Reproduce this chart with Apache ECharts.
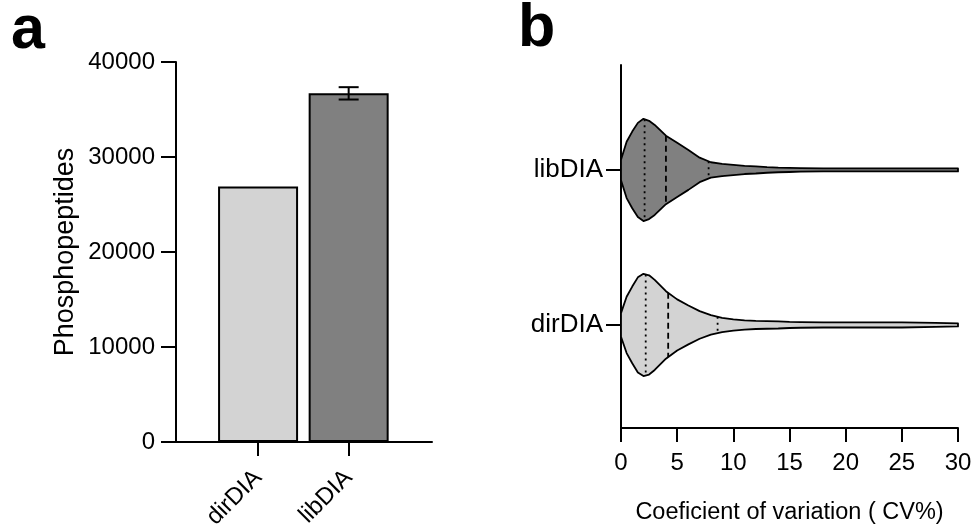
<!DOCTYPE html>
<html><head><meta charset="utf-8">
<script src="https://cdn.jsdelivr.net/npm/echarts@6/dist/echarts.min.js"></script>
<style>html,body{margin:0;padding:0;background:#fff}#c{width:972px;height:527px}</style>
</head><body><div id="c"></div>
<script>
// ---------- Panel a data ----------
const barCategories = ['dirDIA', 'libDIA'];
const barValues = [26900, 36700];
const barErrors = [0, 650];
const yTicksA = [0, 10000, 20000, 30000, 40000];

// ---------- Panel b data ----------
const violinCategories = ['dirDIA', 'libDIA'];
const cvGrid = [0, 0.5, 1, 1.5, 2, 2.5, 3, 4, 5, 6, 7, 8, 9, 10, 11, 12, 13, 14, 15, 16, 18, 20, 22, 25, 28, 30];
const densityDir = [0.23, 0.55, 0.75, 0.93, 1.0, 0.97, 0.88, 0.66, 0.50, 0.38, 0.27, 0.19, 0.14, 0.11, 0.09, 0.08, 0.075, 0.07, 0.06, 0.055, 0.05, 0.05, 0.05, 0.05, 0.04, 0.03];
const densityLib = [0.20, 0.55, 0.75, 0.92, 1.0, 0.96, 0.88, 0.67, 0.53, 0.39, 0.24, 0.15, 0.12, 0.10, 0.08, 0.07, 0.055, 0.045, 0.04, 0.035, 0.03, 0.03, 0.03, 0.03, 0.03, 0.03];
const quartilesDir = [2.2, 4.2, 8.6];
const quartilesLib = [2.1, 4.0, 7.8];
const xTicksB = [0, 5, 10, 15, 20, 25, 30];

const violinDensity = [densityDir, densityLib];
const violinQuartiles = [quartilesDir, quartilesLib];

const FONT = '"Liberation Sans", Arial, Helvetica, sans-serif';
const fills = ['#d3d3d3', '#808080'];
const HALF = 0.33; // max half-width of a violin, in category units

function interp(xs, ys, x) {
  for (let k = 0; k < xs.length - 1; k++) {
    if (x >= xs[k] && x <= xs[k + 1]) {
      const t = (x - xs[k]) / (xs[k + 1] - xs[k]);
      return ys[k] + t * (ys[k + 1] - ys[k]);
    }
  }
  return ys[ys.length - 1];
}

const axisLineStyle = { color: '#000', width: 2 };
const chart = echarts.init(document.getElementById('c'));

const option = {
  animation: false,
  textStyle: { fontFamily: FONT, color: '#000' },
  graphic: [
    { type: 'text', left: 11, top: 1, style: { text: 'a', font: 'bold 61px ' + FONT, fill: '#000' } },
    { type: 'text', left: 518, top: -1, style: { text: 'b', font: 'bold 61px ' + FONT, fill: '#000' } }
  ],
  grid: [
    { left: 176, top: 62, width: 256, height: 380, outerBoundsMode: 'none', containLabel: false },
    { left: 621, top: 65, width: 337, height: 363, outerBoundsMode: 'none', containLabel: false }
  ],
  xAxis: [
    {
      gridIndex: 0, type: 'value', min: 0.094, max: 2.92,
      splitLine: { show: false },
      axisLine: { show: true, onZero: false, lineStyle: axisLineStyle },
      axisTick: { show: true, customValues: [1, 2], length: 14, lineStyle: axisLineStyle },
      axisLabel: {
        customValues: [1, 2], formatter: v => barCategories[Math.round(v) - 1] || '',
        rotate: 45, fontSize: 24, color: '#000', margin: 32, fontFamily: FONT
      }
    },
    {
      gridIndex: 1, type: 'value', min: xTicksB[0], max: xTicksB[xTicksB.length - 1], interval: 5,
      splitLine: { show: false },
      axisLine: { show: true, onZero: false, lineStyle: axisLineStyle },
      axisTick: { show: true, length: 14, lineStyle: axisLineStyle },
      axisLabel: { fontSize: 24, color: '#000', margin: 23, fontFamily: FONT, formatter: v => String(v) },
      name: 'Coeficient of variation ( CV%)', nameLocation: 'middle', nameGap: 73,
      nameTextStyle: { fontSize: 23.5, color: '#000', fontFamily: FONT }
    }
  ],
  yAxis: [
    {
      gridIndex: 0, type: 'value', min: yTicksA[0], max: yTicksA[yTicksA.length - 1], interval: 10000,
      splitLine: { show: false },
      axisLine: { show: true, onZero: false, lineStyle: axisLineStyle },
      axisTick: { show: true, length: 15, lineStyle: axisLineStyle },
      axisLabel: { fontSize: 24, color: '#000', margin: 21, fontFamily: FONT, formatter: v => String(v) },
      name: 'Phosphopeptides', nameLocation: 'middle', nameGap: 97,
      nameTextStyle: { fontSize: 27, color: '#000', fontFamily: FONT }
    },
    {
      gridIndex: 1, type: 'value', min: 0.335, max: 2.677,
      splitLine: { show: false },
      axisLine: { show: true, onZero: false, lineStyle: axisLineStyle },
      axisTick: { show: true, customValues: [1, 2], length: 15, lineStyle: axisLineStyle },
      axisLabel: {
        customValues: [1, 2], formatter: v => violinCategories[Math.round(v) - 1] || '',
        fontSize: 26, color: '#000', margin: 18, fontFamily: FONT
      }
    }
  ],
  series: [
    {
      type: 'bar', xAxisIndex: 0, yAxisIndex: 0, barWidth: 80,
      data: barValues.map((v, i) => ({
        value: [i + 1, v],
        itemStyle: { color: fills[i], borderColor: '#000', borderWidth: 2 }
      })),
      z: 2
    },
    {
      type: 'custom', xAxisIndex: 0, yAxisIndex: 0, z: 5,
      data: barValues.map((v, i) => [i + 1, v, barErrors[i]]).filter(d => d[2] > 0),
      renderItem: (params, api) => {
        const x = api.value(0), m = api.value(1), e = api.value(2);
        const top = api.coord([x, m + e]);
        const bot = api.coord([x, m - e]);
        const cap = 10;
        const st = { stroke: '#000', lineWidth: 2 };
        return {
          type: 'group', children: [
            { type: 'line', shape: { x1: top[0], y1: top[1], x2: bot[0], y2: bot[1] }, style: st },
            { type: 'line', shape: { x1: top[0] - cap, y1: top[1], x2: top[0] + cap, y2: top[1] }, style: st },
            { type: 'line', shape: { x1: bot[0] - cap, y1: bot[1], x2: bot[0] + cap, y2: bot[1] }, style: st }
          ]
        };
      }
    },
    {
      type: 'custom', xAxisIndex: 1, yAxisIndex: 1, z: 3,
      data: violinCategories.map((c, i) => [i]),
      renderItem: (params, api) => {
        const i = api.value(0);
        const dens = violinDensity[i];
        const q = violinQuartiles[i];
        const yc = i + 1;
        const up = [], lo = [];
        cvGrid.forEach((cv, k) => {
          up.push(api.coord([cv, yc + dens[k] * HALF]));
          lo.push(api.coord([cv, yc - dens[k] * HALF]));
        });
        const pts = up.concat(lo.slice().reverse());
        const children = [{
          type: 'polygon', shape: { points: pts, smooth: 0 },
          style: { fill: fills[i], stroke: '#000', lineWidth: 1.8, lineJoin: 'round' }
        }];
        q.forEach((qv, j) => {
          const d = interp(cvGrid, dens, qv) * HALF;
          const a = api.coord([qv, yc + d]);
          const b = api.coord([qv, yc - d]);
          children.push({
            type: 'line', shape: { x1: a[0], y1: a[1], x2: b[0], y2: b[1] },
            style: { stroke: '#000', lineWidth: 1.8, lineDash: j === 1 ? [6, 4] : [2, 4] }
          });
        });
        return { type: 'group', children };
      }
    }
  ]
};
chart.setOption(option);
</script>
</body></html>
